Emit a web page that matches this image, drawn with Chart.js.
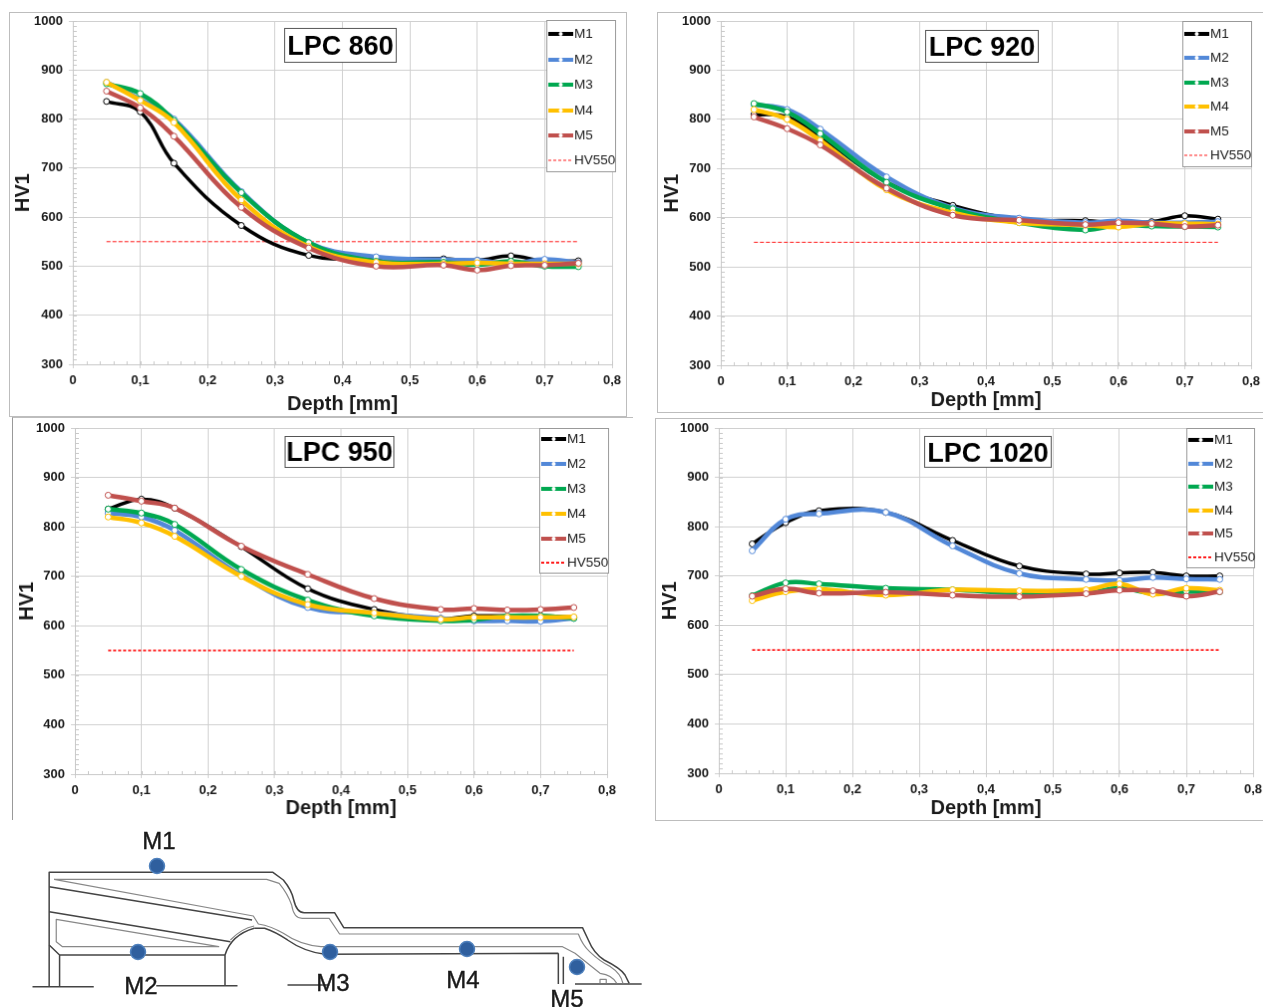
<!DOCTYPE html>
<html><head><meta charset="utf-8">
<style>
html,body{margin:0;padding:0;background:#fff;width:1263px;height:1007px;overflow:hidden}
canvas{position:absolute;display:block;box-sizing:content-box}
svg{position:absolute;left:0;top:0}
svg text{font-family:"Liberation Sans",Arial,sans-serif;font-size:24px;fill:#1a1a1a;stroke:#1a1a1a;stroke-width:.4;text-anchor:middle}
</style>
<script src="https://cdn.jsdelivr.net/npm/chart.js@4/dist/chart.umd.min.js"></script>
</head><body>
<canvas id="c1"></canvas><canvas id="c2"></canvas><canvas id="c3"></canvas><canvas id="c4"></canvas>
<svg id="part" width="1263" height="1007">
<g transform="translate(0,820) scale(0.41667,0.33333)" fill="none">
<g stroke="#444" stroke-width="1.5" stroke-linejoin="round">
<path vector-effect="non-scaling-stroke" d="M118,500V157H655L680,180Q700,210 705,240Q712,278 730,278H803L825,323H1398L1412,360Q1425,400 1450,420Q1490,445 1500,465L1510,490"/>
<path vector-effect="non-scaling-stroke" d="M118,200L605,300M118,275L553,365M118,375L143,405H540M143,405V500M540,405V497M540,405Q555,345 610,325"/>
<path vector-effect="non-scaling-stroke" d="M610,325H635Q660,335 690,360Q730,395 780,403L1340,400M1340,400V492M1352,410V492"/>
<path vector-effect="non-scaling-stroke" d="M78,500H225M375,497H570M690,495H790M1380,492H1540"/>
</g>
<g stroke="#888" stroke-width="1.2" stroke-linejoin="round">
<path vector-effect="non-scaling-stroke" d="M130,178H640L670,190Q690,220 700,255Q705,295 725,295H790L815,342H1388Q1398,375 1415,395Q1440,425 1465,440Q1490,460 1495,490"/>
<path vector-effect="non-scaling-stroke" d="M130,178L608,288L620,312Q650,318 680,340Q720,375 770,380H1350L1380,400L1440,460Q1470,465 1480,490M1440,490V478H1455V490"/>
<path vector-effect="non-scaling-stroke" d="M135,298L525,380H150L135,365ZM553,360Q580,325 610,318"/>
</g>
</g>
<g fill="#2f5f9e" stroke="#4f81bd" stroke-width="1.5">
<circle cx="157" cy="866" r="7.5"/><circle cx="138" cy="952" r="7.5"/><circle cx="330" cy="952" r="7.5"/><circle cx="467" cy="949" r="7.5"/><circle cx="577" cy="967" r="7.5"/>
</g>
<text x="159" y="849">M1</text><text x="141" y="994">M2</text><text x="333" y="991">M3</text><text x="463" y="988">M4</text><text x="567" y="1007">M5</text>
</svg>
<script>
const depths = [0.05,0.1,0.15,0.25,0.35,0.45,0.55,0.6,0.65,0.7,0.75];
const seriesNames = ['M1','M2','M3','M4','M5'];
const seriesColors = ['#000000','#5288d8','#00a850','#ffc000','#c0504d'];
const thresholdName = 'HV550';
const thresholdValues = [550,550];
const thresholdDepths = [0.05,0.75];
const yTicks = [300,400,500,600,700,800,900,1000];

const lpc860 = [
 [836,815,710,583,522,516,515,512,521,510,511],
 [875,840,800,652,548,519,513,512,505,514,507],
 [872,852,797,650,548,510,508,503,510,500,499],
 [875,838,793,635,540,508,505,507,505,505,505],
 [857,823,765,620,537,500,502,492,501,502,506]];
const lpc920 = [
 [810,805,765,672,625,597,594,590,592,604,597],
 [830,820,780,683,620,599,590,594,590,590,592],
 [832,815,771,672,618,590,575,585,583,582,581],
 [820,800,757,657,610,590,585,581,588,588,587],
 [805,781,748,660,605,595,586,590,588,582,585]];
const lpc950 = [
 [836,856,838,760,675,633,615,620,620,620,617],
 [828,820,793,702,637,626,615,610,610,609,615],
 [836,828,805,714,652,620,610,612,620,620,615],
 [820,808,781,700,643,626,613,617,617,617,618],
 [864,852,838,761,704,655,633,635,632,633,637]];
const lpc1020 = [
 [765,808,832,829,772,720,704,706,707,700,700],
 [751,815,826,829,761,705,693,691,697,694,693],
 [660,686,684,675,672,665,665,675,665,668,668],
 [650,668,673,661,672,670,672,684,663,675,671],
 [659,674,665,667,661,658,664,671,670,659,668]];

const FONT = '"Liberation Sans",Arial,sans-serif';
const panels = [
 {id:'c1',title:'LPC 860',values:lpc860,redW:1,
  canvas:[9,12,619,406],plot:[73,614,21,366],legend:[548,20,618,173],rows:[34,60,85,111,136,161],
  tbox:[285,28,398,63],titleDy:2,xPad:0,yPad:1,border:'1px solid #bdbdbd'},
 {id:'c2',title:'LPC 920',values:lpc920,redW:1,
  canvas:[657,12,612,402],plot:[721,1253,21,367],legend:[1184,21,1254,168],rows:[34,58,83,107,132,156],
  tbox:[926,30,1040,63],titleDy:2,xPad:0,yPad:2,border:'1px solid #bdbdbd'},
 {id:'c3',title:'LPC 950',values:lpc950,redW:2,
  canvas:[12,417,622,404],plot:[75,608,428,775],legend:[540,428,610,574],rows:[439,464,489,514,539,563],
  tbox:[285,436,395,468],titleDy:2,xPad:0,yPad:2,border:'none',borderLeft:'1px solid #999',borderTop:'1px solid #bdbdbd'},
 {id:'c4',title:'LPC 1020',values:lpc1020,redW:2,
  canvas:[655,418,614,404],plot:[719,1255,428,775],legend:[1188,428,1257,569],rows:[440,464,487,511,534,558],
  tbox:[925,436,1053,468],titleDy:3,xPad:0,yPad:2,border:'1px solid #bdbdbd'}
];

function minorTicks(chart){
  const {ctx,scales:{x,y},chartArea:a}=chart;
  ctx.save();ctx.strokeStyle='#c8c8c8';ctx.lineWidth=1;ctx.beginPath();
  for(let v=300;v<=1000;v+=10){const p=Math.round(y.getPixelForValue(v))+.5;ctx.moveTo(a.left+1,p);ctx.lineTo(a.left+4,p);}
  for(let i=0;i<=40;i++){const p=Math.round(x.getPixelForValue(i*0.02))+.5;ctx.moveTo(p,a.bottom-3);ctx.lineTo(p,a.bottom);}
  ctx.stroke();ctx.restore();
}
function overlay(p,ox,oy){
  return {id:'overlay',afterDatasetsDraw(chart){
    const ctx=chart.ctx;ctx.save();
    const [tl,tt,tr,tb]=p.tbox;
    ctx.fillStyle='#fff';ctx.fillRect(tl-ox,tt-oy,tr-tl,tb-tt);
    ctx.strokeStyle='#555';ctx.lineWidth=1;ctx.strokeRect(tl-ox+.5,tt-oy+.5,tr-tl-1,tb-tt-1);
    ctx.fillStyle='#000';ctx.font='bold 27px '+FONT;ctx.textAlign='center';ctx.textBaseline='middle';
    ctx.fillText(p.title,(tl+tr)/2-ox,(tt+tb)/2-oy+p.titleDy);
    const [ll,lt,lr,lb]=p.legend;
    ctx.fillStyle='#fff';ctx.fillRect(ll-ox,lt-oy,lr-ll,lb-lt);
    ctx.strokeStyle='#999';ctx.strokeRect(ll-ox+.5,lt-oy+.5,lr-ll-1,lb-lt-1);
    ctx.font='13.5px '+FONT;ctx.textAlign='left';
    chart.data.datasets.forEach((d,i)=>{
      const yy=p.rows[i]-oy, x0=ll+2-ox, x1=ll+27-ox;
      ctx.save();ctx.strokeStyle=d.borderColor;ctx.lineWidth=i<5?4:Math.max(1.2,d.borderWidth);
      if(i===5)ctx.setLineDash([3,2]);
      ctx.beginPath();ctx.moveTo(x0,yy);ctx.lineTo(x1,yy);ctx.stroke();ctx.restore();
      if(i<5){ctx.beginPath();ctx.arc((x0+x1)/2,yy,2,0,Math.PI*2);ctx.fillStyle='#fff';ctx.fill();}
      ctx.fillStyle='#222';ctx.fillText(d.label,x1+1,yy+.5);
    });
    ctx.restore();
  }};
}
const minorPlugin={id:'minor',beforeDatasetsDraw:minorTicks};
function clearScalePadding(s){s.paddingLeft=s.paddingRight=s.paddingTop=s.paddingBottom=0;}

panels.forEach(p=>{
  const el=document.getElementById(p.id);
  const [l,t,w,h]=p.canvas;
  const bL=(p.borderLeft||p.border!=='none')?1:0, bT=(p.borderTop||p.border!=='none')?1:0;
  el.width=w-bL;el.height=h-bT;
  el.style.left=l+'px';el.style.top=t+'px';
  el.style.border=p.border;
  if(p.borderLeft)el.style.borderLeft=p.borderLeft;
  if(p.borderTop)el.style.borderTop=p.borderTop;
  const ox=l+bL, oy=t+bT, bottomEdge=oy+h-bT;
  const [pl,pr,pt,pb]=p.plot;
  const datasets=seriesNames.map((name,i)=>({
    label:name,
    data:depths.map((x,k)=>({x,y:p.values[i][k]})),
    borderColor:seriesColors[i],backgroundColor:'#fff',
    borderWidth:i===0?3.5:4.5,tension:0.4,showLine:true,
    pointRadius:3,pointBorderWidth:1,pointBackgroundColor:'#fff',pointBorderColor:seriesColors[i],
    order:5-i
  }));
  datasets.push({label:thresholdName,
    data:thresholdDepths.map((x,k)=>({x,y:thresholdValues[k]})),
    borderColor:'#ff1a1a',backgroundColor:'#ff1a1a',borderWidth:p.redW===1?1:1.8,borderDash:p.redW===1?[4,2]:[3,2],
    showLine:true,pointRadius:0,order:6});
  new Chart(el,{type:'scatter',data:{datasets},
    plugins:[minorPlugin,overlay(p,ox,oy)],
    options:{responsive:false,animation:false,devicePixelRatio:1,
      layout:{autoPadding:false,padding:{left:0,top:pt-oy,right:Math.max(0,ox+(w-bL)-pr),bottom:0}},
      plugins:{legend:{display:false},title:{display:false},tooltip:{enabled:false}},
      scales:{
        x:{type:'linear',min:0,max:0.8,
          afterFit(s){s.height=bottomEdge-pb;clearScalePadding(s);},
          grid:{color:'#d0d0d0',lineWidth:1,tickLength:4,drawTicks:true},
          border:{color:'#c8c8c8'},
          ticks:{stepSize:0.1,maxRotation:0,autoSkip:false,padding:5,color:'#1a1a1a',font:{family:FONT,size:13,weight:'bold'},
            callback:v=>{const r=Math.round(v*10)/10;return r===0?'0':r.toFixed(1).replace('.',',');}},
          title:{display:true,text:'Depth [mm]',color:'#1a1a1a',font:{family:FONT,size:20,weight:'bold'},padding:{top:0,bottom:p.xPad}}},
        y:{type:'linear',min:300,max:1000,
          afterFit(s){s.width=pl-ox;clearScalePadding(s);},
          afterBuildTicks(s){s.ticks=yTicks.map(value=>({value}));},
          grid:{color:'#d0d0d0',lineWidth:1,tickLength:4,drawTicks:true},
          border:{color:'#c8c8c8'},
          ticks:{padding:6,color:'#1a1a1a',font:{family:FONT,size:13,weight:'bold'},callback:v=>String(v)},
          title:{display:true,text:'HV1',color:'#1a1a1a',font:{family:FONT,size:20,weight:'bold'},padding:{top:p.yPad,bottom:0}}}
      }}});
});
</script>
</body></html>
